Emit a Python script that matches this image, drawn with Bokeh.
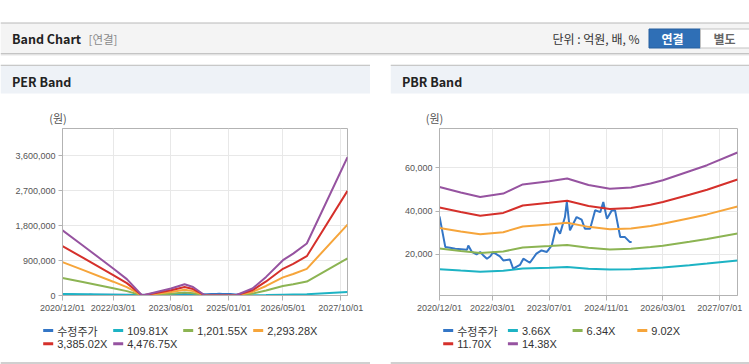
import pandas as pd
from bokeh.plotting import figure
from bokeh.models import Range1d, FixedTicker, DatetimeTickFormatter, NumeralTickFormatter
from bokeh.layouts import column, row, Spacer
from bokeh.core.properties import value
from bokeh.embed import file_html
from bokeh.resources import INLINE

# ---------------- data ----------------
price_dates = ["2020-12-01", "2021-01-20", "2021-03-01", "2021-04-15", "2021-06-05", "2021-07-25",
               "2021-08-05", "2021-09-05", "2021-10-15", "2021-11-15", "2021-12-10", "2022-01-12",
               "2022-02-10", "2022-03-05", "2022-05-03", "2022-06-01", "2022-07-28", "2022-08-25",
               "2022-10-22", "2022-11-20", "2023-01-15", "2023-03-12", "2023-04-25", "2023-06-10",
               "2023-07-22", "2023-08-28", "2023-10-01", "2023-11-12", "2023-11-28", "2023-12-25",
               "2024-02-20", "2024-04-03", "2024-05-01", "2024-06-15", "2024-07-28", "2024-09-10",
               "2024-10-06", "2024-11-06", "2024-12-18", "2025-01-15", "2025-02-28", "2025-04-10",
               "2025-05-22", "2025-06-06"]
price = [37540, 23270, 23000, 22500, 22300, 22000,
         24000, 21000, 19870, 21000, 19500, 17870,
         19000, 20900, 19000, 17080, 17500, 13220,
         15000, 17870, 16000, 20200, 21700, 21000,
         24050, 32570, 29500, 37220, 44200, 31030,
         37200, 36000, 31820, 31800, 40330, 39500,
         44200, 36470, 40300, 40330, 27920, 27900,
         25590, 25590]

per_dates = ["2020-12-01", "2021-06-01", "2022-03-01", "2022-07-01", "2022-11-15", "2023-08-01",
             "2023-12-01", "2024-02-15", "2024-06-01", "2025-03-01", "2025-08-01", "2025-12-01",
             "2026-05-01", "2026-08-01", "2026-12-01", "2027-12-01"]
per_109 = [41179, 31625, 17021, 10322, 0, 4392, 7138, 5381, 0, 0, 4392, 11750, 22291, 26464, 32833, 87409]
per_1201 = [450581, 346046, 186240, 112946, 0, 48062, 78101, 58876, 0, 0, 48062, 128566, 243915, 289574, 359263, 956434]
per_2293 = [859980, 660465, 355458, 215568, 0, 91731, 149063, 112371, 0, 0, 91731, 245381, 465536, 552680, 685691, 1825451]
per_3385 = [1269383, 974886, 524678, 318192, 0, 135401, 220026, 165866, 0, 0, 135401, 362197, 687159, 815790, 1012121, 2694476]
per_4476 = [1678781, 1289304, 693896, 420815, 0, 179070, 290989, 219361, 0, 0, 179070, 479012, 908780, 1078897, 1338548, 3563493]
per_labels = ["수정주가", "109.81X", "1,201.55X", "2,293.28X", "3,385.02X", "4,476.75X"]
per_ticks = ["2020-12-01", "2022-03-01", "2023-08-01", "2025-01-01", "2026-05-01", "2027-10-01"]
per_yticks = [0, 900000, 1800000, 2700000, 3600000]

pbr_dates = ["2020-12-01", "2021-06-01", "2021-11-15", "2022-06-01", "2022-11-15", "2023-07-01",
             "2023-12-01", "2024-06-01", "2024-12-01", "2025-06-01", "2025-11-15", "2026-03-01",
             "2026-10-15", "2027-03-15", "2027-12-01"]
pbr_366 = [13022, 12371, 11840, 12243, 13322, 13699, 14018, 13249, 12810, 12956, 13425, 13817, 14882, 15595, 17096]
pbr_634 = [22558, 21429, 20510, 21207, 23078, 23731, 24282, 22951, 22190, 22444, 23255, 23934, 25778, 27015, 29614]
pbr_902 = [32093, 30488, 29180, 30172, 32833, 33762, 34547, 32652, 31570, 31931, 33085, 34051, 36675, 38434, 42132]
pbr_1170 = [41629, 39546, 37850, 39137, 42588, 43793, 44811, 42354, 40950, 41418, 42916, 44168, 47572, 49854, 54651]
pbr_1438 = [51164, 48604, 46519, 48101, 52343, 53824, 55075, 52056, 50330, 50905, 52746, 54285, 58469, 61273, 67169]
pbr_labels = ["수정주가", "3.66X", "6.34X", "9.02X", "11.70X", "14.38X"]
pbr_ticks = ["2020-12-01", "2022-03-01", "2023-07-01", "2024-11-01", "2026-03-01", "2027-07-01"]
pbr_yticks = [20000, 40000, 60000]

x_start, x_end = "2020-12-01", "2027-12-01"

# ---------------- style ----------------
COLORS = ["#3476c6", "#1db3c4", "#8cb453", "#f6a53b", "#d5302b", "#9653a0"]
KR = "Noto Sans CJK KR"
NUM = "Liberation Sans"
AXC = "#b3b3b3"
GRIDC = "#e8e8e8"
LBLC = "#555555"
HEAD_BOTTOM = 127   # where the chart canvases begin


def ms(d):
    return int(pd.Timestamp(d).value // 10**6)


def pix_fig(x0, x1, y0, y1):
    p = figure(width=int(x1 - x0), height=int(y1 - y0), x_range=Range1d(x0, x1), y_range=Range1d(y1, y0),
               output_backend="svg", toolbar_location=None, x_axis_location=None, y_axis_location=None,
               min_border=0, min_border_left=0, min_border_right=0, min_border_top=0, min_border_bottom=0)
    p.xgrid.visible = False
    p.ygrid.visible = False
    p.outline_line_color = None
    p.background_fill_color = "white"
    p.border_fill_color = "white"
    return p


def head_fig(x0, x1, title, unit_x):
    p = pix_fig(x0, x1, 64, HEAD_BOTTOM)
    p.quad(left=[x0], right=[x1], top=[64], bottom=[93], fill_color="#eef2f7", line_color=None)
    p.segment(x0=[x0], y0=[64.75], x1=[x1], y1=[64.75], line_color="#c8c8c8", line_width=1.5)
    p.text(x=[x0 + 11.5], y=[80.5], text=[title], text_font=value(KR),
           text_font_style="bold", text_font_size="12.5px", text_color="#222222",
           text_baseline="middle", text_align="left")
    p.text(x=[unit_x], y=[117.5], text=["(원)"], text_font=value(KR), text_font_size="11px",
           text_color=LBLC, text_baseline="middle", text_align="center")
    return p


def chart_fig(width, ml, mr, ymin, ymax, xticks, yticks, dates, series, pdates, pvals):
    p = figure(width=width, height=318 - HEAD_BOTTOM, x_axis_type="datetime",
               x_range=Range1d(pd.Timestamp(x_start).to_pydatetime(), pd.Timestamp(x_end).to_pydatetime()),
               y_range=Range1d(ymin, ymax), output_backend="svg", toolbar_location=None,
               min_border_left=ml, min_border_right=mr, min_border_top=128 - HEAD_BOTTOM, min_border_bottom=23)
    p.background_fill_color = "white"
    p.border_fill_color = "white"
    p.outline_line_color = AXC
    p.xaxis.ticker = FixedTicker(ticks=[ms(d) for d in xticks])
    fmt = "%Y/%m/%d"
    p.xaxis.formatter = DatetimeTickFormatter(milliseconds=fmt, seconds=fmt, minsec=fmt, minutes=fmt,
                                              hourmin=fmt, hours=fmt, days=fmt, months=fmt, years=fmt)
    p.yaxis.ticker = FixedTicker(ticks=yticks)
    p.yaxis.formatter = NumeralTickFormatter(format="0,0")
    for ax in (p.xaxis, p.yaxis):
        ax.axis_line_color = AXC
        ax.major_tick_line_color = AXC
        ax.minor_tick_line_color = None
        ax.major_tick_in = 0
        ax.major_label_text_font = NUM
        ax.major_label_text_font_size = "9px"
        ax.major_label_text_color = LBLC
    p.xaxis.major_tick_out = 5
    p.yaxis.major_tick_out = 4
    p.xaxis.major_label_standoff = 2
    p.yaxis.major_label_standoff = 3
    p.xgrid.grid_line_color = GRIDC
    p.ygrid.grid_line_color = GRIDC
    # price first (underneath), then bands
    p.line(x=pd.to_datetime(pdates), y=pvals, line_color=COLORS[0], line_width=2)
    dts = pd.to_datetime(dates)
    for s, c in zip(series, COLORS[1:]):
        p.line(x=dts, y=s, line_color=c, line_width=2)
    return p


def legend_fig(x0, x1, labels, text_x):
    p = pix_fig(x0, x1, 318, 364)
    rows_y = [330, 343.3]
    for i, (lab, c) in enumerate(zip(labels, COLORS)):
        r, col = divmod(i, 4)
        tx = text_x[col]
        y = rows_y[r]
        p.segment(x0=[tx - 14], y0=[y], x1=[tx - 4], y1=[y], line_color=c, line_width=3)
        font = KR if not any(ch.isdigit() for ch in lab) else NUM
        p.text(x=[tx], y=[y], text=[lab], text_font=value(font), text_font_size="11px",
               text_color="#333333", text_baseline="middle", text_align="left")
    p.segment(x0=[x0], y0=[362.5], x1=[x1], y1=[362.5], line_color="#d0d0d0", line_width=2)
    return p


# ---------------- top header ----------------
top = pix_fig(0, 749, 0, 64)
top.quad(left=[0], right=[749], top=[22.5], bottom=[52.5], fill_color="#f4f4f4", line_color=None)
top.segment(x0=[0], y0=[22.5], x1=[749], y1=[22.5], line_color="#b8b8b8", line_width=1)
top.segment(x0=[0], y0=[53], x1=[749], y1=[53], line_color="#c4c4c4", line_width=1)
top.segment(x0=[0], y0=[54], x1=[749], y1=[54], line_color="#e2e2e2", line_width=1)
top.segment(x0=[0], y0=[55], x1=[749], y1=[55], line_color="#f2f2f2", line_width=1)
top.text(x=[11.5], y=[38], text=["Band Chart"], text_font=value(KR), text_font_style="bold",
         text_font_size="12.5px", text_color="#222222", text_baseline="middle")
top.text(x=[88], y=[38], text=["[연결]"], text_font=value(KR), text_font_size="11.5px",
         text_color="#8a8a8a", text_baseline="middle")
top.text(x=[552], y=[38], text=["단위 : 억원, 배, %"], text_font=value(KR), text_font_size="12px",
         text_color="#333333", text_baseline="middle")
top.quad(left=[648.5], right=[700], top=[28.5], bottom=[47.5], fill_color="#2f6fb6", line_color="#28609f")
top.quad(left=[700], right=[749], top=[28.5], bottom=[47.5], fill_color="#ffffff", line_color="#c2c2c2")
top.text(x=[672], y=[38], text=["연결"], text_font=value(KR), text_font_style="bold", text_font_size="12px",
         text_color="#ffffff", text_baseline="middle", text_align="center")
top.text(x=[724], y=[38], text=["별도"], text_font=value(KR), text_font_style="bold", text_font_size="12px",
         text_color="#666666", text_baseline="middle", text_align="center")

# ---------------- panels ----------------
per_head = head_fig(0, 370, "PER Band", 57.5)
per_chart = chart_fig(370, 62, 23, 0, 4300000, per_ticks, per_yticks, per_dates,
                      [per_109, per_1201, per_2293, per_3385, per_4476], price_dates, price)
per_leg = legend_fig(0, 370, per_labels, [56.7, 126.7, 196.7, 266.7])

pbr_head = head_fig(390, 749, "PBR Band", 434)
pbr_chart = chart_fig(359, 49, 12, 800, 78300, pbr_ticks, pbr_yticks, pbr_dates,
                      [pbr_366, pbr_634, pbr_902, pbr_1170, pbr_1438], price_dates, price)
pbr_leg = legend_fig(390, 749, pbr_labels, [456.7, 521.4, 586.1, 650.8])

layout = column(top,
                row(per_head, Spacer(width=20, height=HEAD_BOTTOM - 64), pbr_head),
                row(per_chart, Spacer(width=20, height=318 - HEAD_BOTTOM), pbr_chart),
                row(per_leg, Spacer(width=20, height=46), pbr_leg))

open("out.html", "w").write(file_html(layout, INLINE))
